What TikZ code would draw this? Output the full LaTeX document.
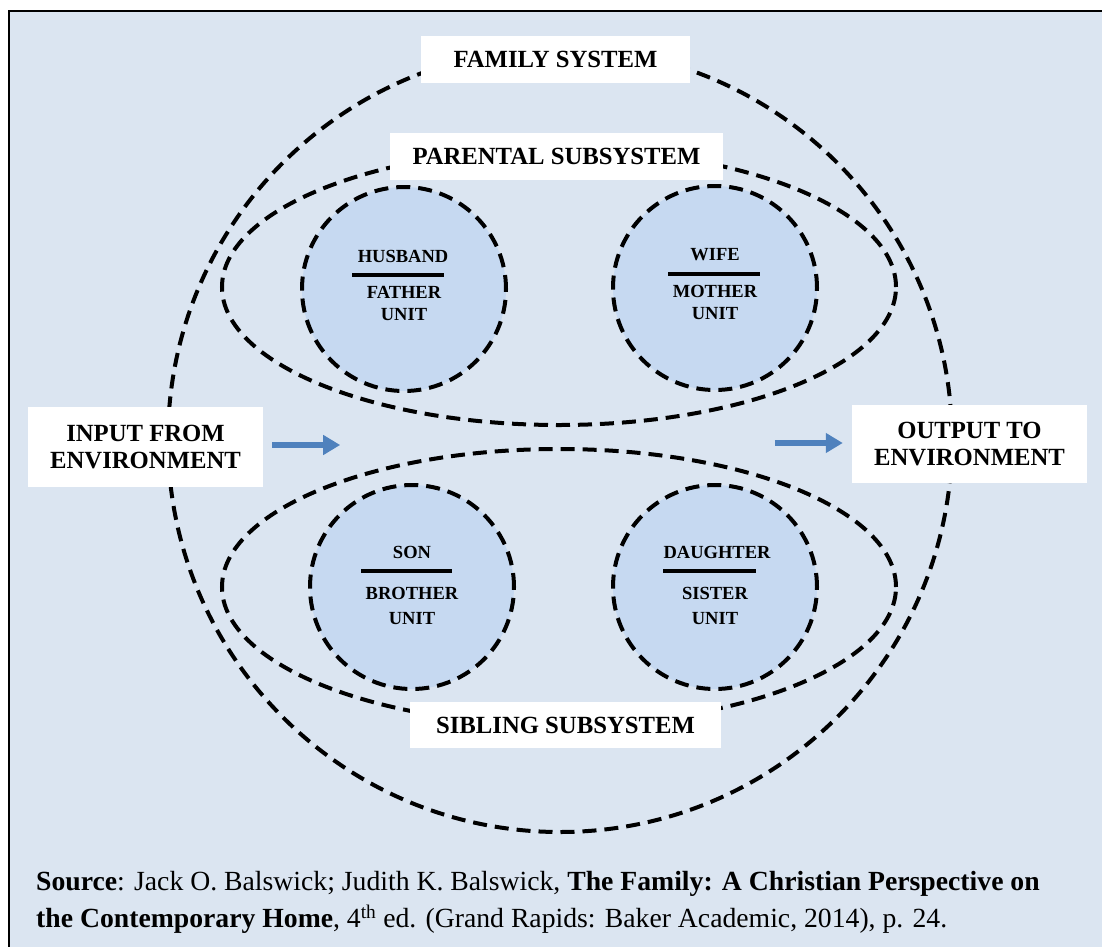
\documentclass[tikz,border=0pt]{standalone}
\usepackage{fontspec}
\setmainfont{Liberation Serif}
\usetikzlibrary{arrows.meta,calc,shapes.geometric}
\definecolor{bgblue}{HTML}{DBE5F1}
\definecolor{unitblue}{HTML}{C6D9F1}
\definecolor{arrowblue}{HTML}{4F81BD}
\begin{document}
\begin{tikzpicture}[x=1bp,y=-1bp,
  dashline/.style={line width=4bp, dash pattern=on 14bp off 8bp},
  unit/.style={circle, draw, dashline, fill=unitblue, minimum size=204bp, inner sep=0},
  system/.style={draw, dashline, inner sep=0},
  sysbox/.style={fill=white, inner sep=0, font=\fontsize{24.7bp}{27bp}\selectfont\bfseries, align=center},
  unittext/.style={font=\fontsize{18.5bp}{22bp}\selectfont\bfseries, inner sep=0, align=center},
  unittextb/.style={font=\fontsize{18.5bp}{25bp}\selectfont\bfseries, inner sep=0, align=center},
  rule/.style={line width=4bp},
  flow/.style={line width=6bp, draw=arrowblue, -{Triangle[length=17bp,width=19bp]}},
  footer/.style={font=\fontsize{27.7bp}{37bp}\selectfont, anchor=base west, inner sep=0}]
\useasboundingbox (0,0) rectangle (1102,947);
\clip (0,0) rectangle (1102,947);
\fill[white] (0,0) rectangle (1102,947);
\draw[line width=2.5bp, fill=bgblue] (9,11) rectangle (1115,960);

% systems
\node[system, circle, minimum size=784bp] (family) at (560,440) {};
\node[system, ellipse, minimum width=674bp, minimum height=276bp] (parental) at (559,287) {};
\node[system, ellipse, minimum width=674bp, minimum height=276bp] (sibling) at (559,587) {};

% units
\node[unit] (husband) at (404,289) {};
\node[unit] (wife) at (715,288) {};
\node[unit] (son) at (412,587) {};
\node[unit] (daughter) at (715,587) {};

\node[unittext] (husbandA) at ($(husband)+(-1,-33)$) {HUSBAND};
\draw[rule] ($(husband)+(-52,-14)$) -- ($(husband)+(40,-14)$);
\node[unittext] (husbandB) at ($(husband)+(0,14.5)$) {FATHER\\UNIT};

\node[unittext] (wifeA) at ($(wife)+(0,-33)$) {WIFE};
\draw[rule] ($(wife)+(-47,-14)$) -- ($(wife)+(45,-14)$);
\node[unittext] (wifeB) at ($(wife)+(0,14.5)$) {MOTHER\\UNIT};

\node[unittextb] (sonA) at ($(son)+(0,-35)$) {SON};
\draw[rule] ($(son)+(-51,-16)$) -- ($(son)+(40,-16)$);
\node[unittextb] (sonB) at ($(son)+(0,18.5)$) {BROTHER\\UNIT};

\node[unittextb] (daughterA) at ($(daughter)+(2,-35)$) {DAUGHTER};
\draw[rule] ($(daughter)+(-52,-16)$) -- ($(daughter)+(41,-16)$);
\node[unittextb] (daughterB) at ($(daughter)+(0,18.5)$) {SISTER\\UNIT};

% labels
\node[sysbox, minimum width=269bp, minimum height=47bp] (familyL) at (555.5,59.5) {FAMILY SYSTEM};
\node[sysbox, minimum width=333bp, minimum height=47bp] (parentalL) at (556.5,156.5) {PARENTAL SUBSYSTEM};
\node[sysbox, minimum width=311bp, minimum height=46bp] (siblingL) at (565.5,725) {SIBLING SUBSYSTEM};
\node[sysbox, minimum width=235bp, minimum height=80bp] (input) at (145.5,447) {INPUT FROM\\ENVIRONMENT};
\node[sysbox, minimum width=235bp, minimum height=78bp] (output) at (969.5,444) {OUTPUT TO\\ENVIRONMENT};

% flows
\coordinate (inStart) at ($(input.east)+(9,-2)$);
\coordinate (inEnd) at ($(input.east)+(77,-2)$);
\draw[flow] (inStart) -- (inEnd);
\coordinate (outStart) at ($(output.west)+(-77,-1)$);
\coordinate (outEnd) at ($(output.west)+(-9,-1)$);
\draw[flow] (outStart) -- (outEnd);

% source
\node[footer] (src1) at (36,890) {\textbf{Source}: Jack O. Balswick; Judith K. Balswick, \textbf{The Family: A Christian Perspective on}};
\node[footer] (src2) at (36,927) {\textbf{the Contemporary Home}, 4\textsuperscript{th} ed. (Grand Rapids: Baker Academic, 2014), p. 24.};
\end{tikzpicture}
\end{document}
